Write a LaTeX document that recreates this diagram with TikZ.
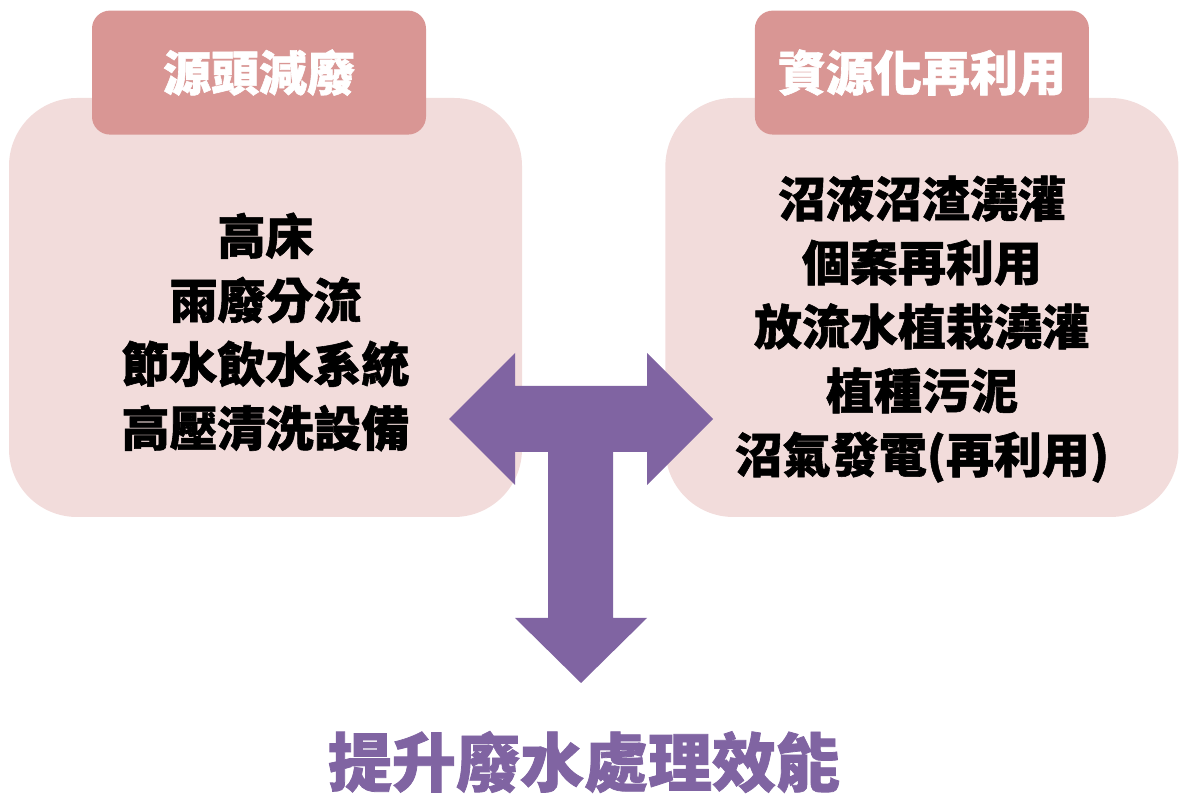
\documentclass[tikz,border=0pt]{standalone}
\usepackage{fontspec}
\setmainfont{Noto Sans CJK TC}[BoldFeatures={FakeBold=1.2}]
\usetikzlibrary{positioning}
\definecolor{arrowpurple}{HTML}{8064A2}
\definecolor{headpink}{HTML}{D99694}
\definecolor{boxpink}{HTML}{F2DCDB}
\tikzstyle{groupbox}=[rectangle, rounded corners=68pt, fill=boxpink, minimum width=513pt, minimum height=419pt, inner sep=0pt]
\tikzstyle{headbox}=[rectangle, rounded corners=18pt, fill=headpink, minimum width=334pt, minimum height=124pt, inner sep=0pt, text=white, font=\fontsize{48}{58}\selectfont\bfseries]
\tikzstyle{listtext}=[align=center, inner sep=0pt, font=\fontsize{48}{64}\selectfont\bfseries]
\tikzstyle{goaltext}=[inner sep=0pt, text=arrowpurple, font=\fontsize{64}{72}\selectfont\bfseries]

\begin{document}
\begin{tikzpicture}[x=1pt, y=1pt]
    \useasboundingbox (0,0) rectangle (1188,800);

    \node (srcbox) [groupbox] at (265.5,492.5) {};
    \node (reusebox) [groupbox, right=143pt of srcbox] {};

    \node (srchead) [headbox, above=-37pt of srcbox.north, xshift=-6.5pt] {源頭減廢};
    \node (reusehead) [headbox, above=-37pt of reusebox.north] {資源化再利用};

% lists
    \node (srclist) [listtext] at (265.5,468) {高床\\ 雨廢分流\\ 節水飲水系統\\ 高壓清洗設備};
    \node (reuselist) [listtext] at (922,471) {沼液沼渣澆灌\\ 個案再利用\\ 放流水植栽澆灌\\ 植種污泥\\ 沼氣發電(再利用)};

% T arrow
    \coordinate (hub) at (581,381);
    \fill[arrowpurple, shift={(hub)}] (-132,0) -- (-66,66) -- (-66,33) -- (66,33) -- (66,66) -- (132,0)
        -- (66,-66) -- (66,-33) -- (32,-33) -- (32,-199) -- (66,-199) -- (0,-264) -- (-66,-199)
        -- (-33,-199) -- (-33,-33) -- (-66,-33) -- (-66,-66) -- cycle;

    \node (goal) [goaltext] at (584,38) {提升廢水處理效能};

\end{tikzpicture}
\end{document}
